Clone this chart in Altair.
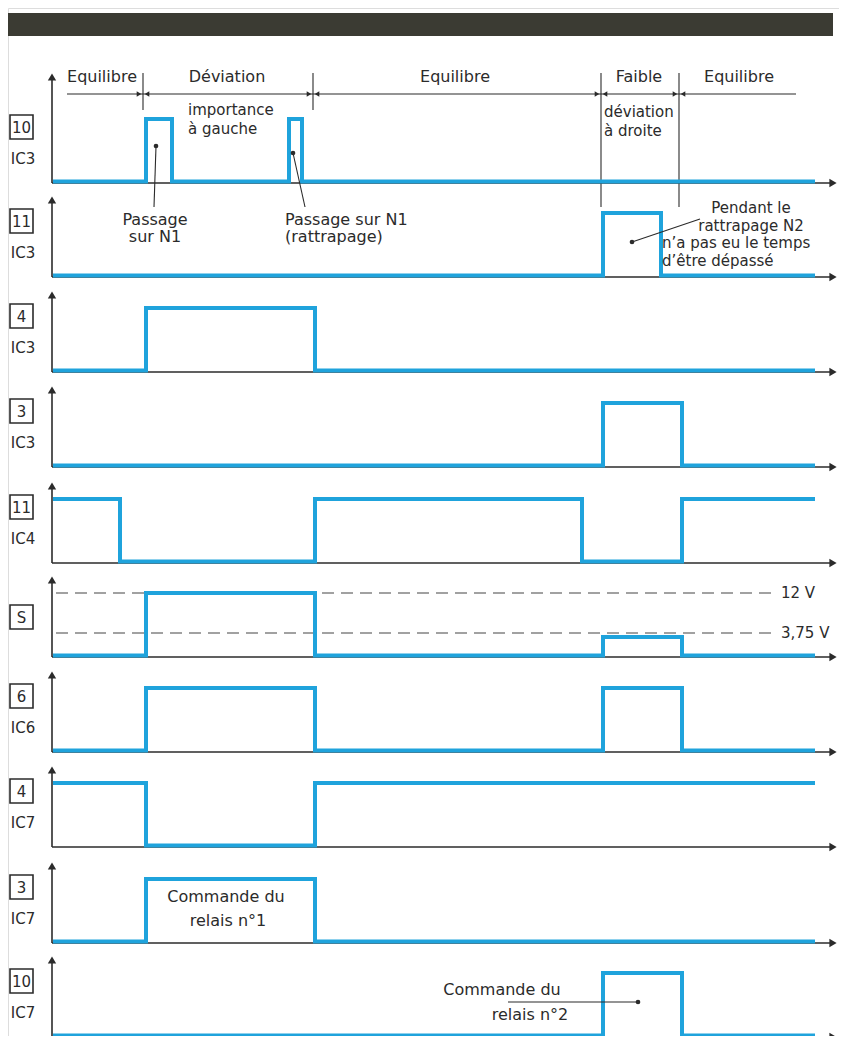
import altair as alt
import pandas as pd

# ---------------- data ----------------
T_START, T_END = 55, 813          # time span of the traces (px-like time units)

PIN = ["10", "11", "4", "3", "11", "S", "6", "4", "3", "10"]
IC = ["IC3", "IC3", "IC3", "IC3", "IC4", "", "IC6", "IC7", "IC7", "IC7"]

# initial level (0/1) and transitions (time, new level)
INIT = [0, 0, 0, 0, 1, 0, 0, 1, 0, 0]
EDGES = [
    [(146, 1), (172, 0), (289, 1), (302, 0)],
    [(603, 1), (661, 0)],
    [(146, 1), (315, 0)],
    [(603, 1), (682, 0)],
    [(120, 0), (315, 1), (582, 0), (682, 1)],
    [(146, 12 / 12), (315, 0), (603, 3.75 / 12), (682, 0)],   # S in volts / 12 V
    [(146, 1), (315, 0), (603, 1), (682, 0)],
    [(146, 0), (315, 1)],
    [(146, 1), (315, 0)],
    [(603, 1), (682, 0)],
]
S_REFS = [12, 3.75]
S_REF_LABELS = ["12 V", "3,75 V"]

PHASES = ["Equilibre", "Déviation", "Equilibre", "Faible", "Equilibre"]
PHASE_BOUNDS = [143, 313, 601, 679]

# ---------------- layout ----------------
BASE = [183, 277, 372, 467, 563, 657, 752, 847, 943, 1037]
AMP = 64
LOW_LIFT = 1.5
AX_X = 52
BLUE = "#1fa3dc"
INK = "#2b2b2b"
FONT = "DejaVu Sans"
FS = 16

X = alt.X("x:Q", scale=alt.Scale(domain=[8, 839], nice=False, zero=False), axis=None)
Y = alt.Y("y:Q", scale=alt.Scale(domain=[8, 1036], nice=False, zero=False, reverse=True), axis=None)
X2 = alt.X2("x2:Q")
Y2 = alt.Y2("y2:Q")


def lvl_y(i, lv):
    return BASE[i] - (lv * AMP if lv > 0 else LOW_LIFT)


# signal traces
pts = []
for i in range(len(PIN)):
    k = 0
    cur = INIT[i]
    pts.append(dict(sig=i, k=k, x=T_START, y=lvl_y(i, cur)))
    for t, lv in EDGES[i]:
        k += 1
        pts.append(dict(sig=i, k=k, x=t, y=lvl_y(i, cur)))
        k += 1
        pts.append(dict(sig=i, k=k, x=t, y=lvl_y(i, lv)))
        cur = lv
    k += 1
    pts.append(dict(sig=i, k=k, x=T_END, y=lvl_y(i, cur)))
sig_df = pd.DataFrame(pts)

# axes
ax_rows, up_arrows, right_arrows = [], [], []
for i, b in enumerate(BASE):
    top = 72 if i == 0 else b - 82
    ax_rows.append(dict(x=AX_X, y=b, x2=AX_X, y2=top + 6))
    ax_rows.append(dict(x=AX_X, y=b, x2=830, y2=b))
    up_arrows.append(dict(x=AX_X, y=top + 5))
    right_arrows.append(dict(x=833, y=b))
ax_df = pd.DataFrame(ax_rows)

# header
bar_df = pd.DataFrame([dict(x=8, x2=833, y=13, y2=36)])
hdr_line = pd.DataFrame([dict(x=67, x2=796, y=94, y2=94)])
div_rows = []
for j, xb in enumerate(PHASE_BOUNDS):
    div_rows.append(dict(x=xb, x2=xb, y=73, y2=110 if j < 2 else 207))
div_df = pd.DataFrame(div_rows)
arr_r = pd.DataFrame([dict(x=xb - 4, y=94) for xb in PHASE_BOUNDS])
arr_l = pd.DataFrame([dict(x=xb + 4, y=94) for xb in PHASE_BOUNDS])
phase_x = [102, 227, 455, 639, 739]
phase_df = pd.DataFrame([dict(x=px, y=77, t=p) for px, p in zip(phase_x, PHASES)])

hdr_notes = pd.DataFrame([
    dict(x=188, y=110, t="importance"),
    dict(x=188, y=129, t="à gauche"),
    dict(x=604, y=112, t="déviation"),
    dict(x=604, y=131, t="à droite"),
])

# S reference lines (12 V and 3,75 V levels)
ref_df = pd.DataFrame([dict(t=lab) for lab in S_REF_LABELS])
ref_df["x"] = 56
ref_df["x2"] = 775
ref_df["y"] = [593, 633]
ref_df["y2"] = [593, 633]
ref_df["xl"] = 781

# label boxes
box_rows, pin_rows, ic_rows = [], [], []
for i, b in enumerate(BASE):
    cy = b - 56 if IC[i] else b - 40
    box_rows.append(dict(x=10, x2=33, y=cy - 12, y2=cy + 12))
    pin_rows.append(dict(x=21.5, y=cy + 1, t=PIN[i]))
    if IC[i]:
        ic_rows.append(dict(x=23, y=b - 24, t=IC[i]))
box_df = pd.DataFrame(box_rows)
pin_df = pd.DataFrame(pin_rows)
ic_df = pd.DataFrame(ic_rows)

# annotations
ann_lines = pd.DataFrame([
    dict(x=156, y=146, x2=154, y2=207),
    dict(x=293, y=153, x2=305, y2=207),
    dict(x=632, y=242, x2=700, y2=219),
    dict(x=508, y=1002, x2=638, y2=1002),
])
ann_dots = pd.DataFrame([dict(x=156, y=146), dict(x=293, y=153),
                         dict(x=632, y=242), dict(x=638, y=1002)])
ann_c = pd.DataFrame([
    dict(x=155, y=220, t="Passage"),
    dict(x=155, y=237, t="sur N1"),
    dict(x=226, y=897, t="Commande du"),
    dict(x=228, y=921, t="relais n°1"),
    dict(x=502, y=990, t="Commande du"),
    dict(x=530, y=1015, t="relais n°2"),
])
ann_l = pd.DataFrame([
    dict(x=285, y=220, t="Passage sur N1"),
    dict(x=285, y=237, t="(rattrapage)"),
])
ann_n2c = pd.DataFrame([
    dict(x=751, y=208, t="Pendant le"),
    dict(x=751, y=225.5, t="rattrapage N2"),
])
ann_n2l = pd.DataFrame([
    dict(x=662, y=243, t="n’a pas eu le temps"),
    dict(x=662, y=260.5, t="d’être dépassé"),
])


def text_layer(df, align, size=FS):
    return alt.Chart(df).mark_text(font=FONT, fontSize=size, color=INK, align=align,
                                   baseline="middle").encode(x=X, y=Y, text="t:N")


layers = [
    alt.Chart(bar_df).mark_rect(color="#3b3b33").encode(x=X, x2=X2, y=Y, y2=Y2),
    alt.Chart(hdr_line).mark_rule(color=INK, strokeWidth=1.1).encode(x=X, x2=X2, y=Y, y2=Y2),
    alt.Chart(div_df).mark_rule(color=INK, strokeWidth=1.1).encode(x=X, x2=X2, y=Y, y2=Y2),
    alt.Chart(arr_r).mark_point(shape="triangle-right", filled=True, size=28, color=INK, opacity=1).encode(x=X, y=Y),
    alt.Chart(arr_l).mark_point(shape="triangle-left", filled=True, size=28, color=INK, opacity=1).encode(x=X, y=Y),
    text_layer(phase_df, "center"),
    text_layer(hdr_notes, "left", FS - 1),
    alt.Chart(ref_df).mark_rule(color="#444444", strokeWidth=1.2, strokeDash=[12, 7]).encode(x=X, x2=X2, y=Y, y2=Y2),
    alt.Chart(ref_df).mark_text(font=FONT, fontSize=FS - 1, color=INK, align="left", baseline="middle").encode(
        x=alt.X("xl:Q", scale=alt.Scale(domain=[8, 839], nice=False, zero=False), axis=None), y=Y, text="t:N"),
    alt.Chart(ax_df).mark_rule(color=INK, strokeWidth=1.6).encode(x=X, x2=X2, y=Y, y2=Y2),
    alt.Chart(pd.DataFrame(up_arrows)).mark_point(shape="triangle-up", filled=True, size=70, color=INK, opacity=1).encode(x=X, y=Y),
    alt.Chart(pd.DataFrame(right_arrows)).mark_point(shape="triangle-right", filled=True, size=70, color=INK, opacity=1).encode(x=X, y=Y),
    alt.Chart(sig_df).mark_line(color=BLUE, strokeWidth=4, strokeJoin="miter", strokeCap="square").encode(
        x=X, y=Y, detail="sig:N", order="k:Q"),
    alt.Chart(box_df).mark_rect(fill="white", stroke=INK, strokeWidth=1.6).encode(x=X, x2=X2, y=Y, y2=Y2),
    text_layer(pin_df, "center", FS - 1),
    text_layer(ic_df, "center", FS - 1),
    alt.Chart(ann_lines).mark_rule(color=INK, strokeWidth=1.1).encode(x=X, x2=X2, y=Y, y2=Y2),
    alt.Chart(ann_dots).mark_point(shape="circle", filled=True, size=22, color=INK, opacity=1).encode(x=X, y=Y),
    text_layer(ann_c, "center"),
    text_layer(ann_l, "left"),
    text_layer(ann_n2c, "center", 15),
    text_layer(ann_n2l, "left", 15),
]

chart = alt.layer(*layers).properties(
    width=831, height=1028, padding=0, autosize=alt.AutoSizeParams(type="none")
).configure_view(stroke=None).configure(background="white")

chart.save("out.html", embed_options={"renderer": "svg", "actions": False})
